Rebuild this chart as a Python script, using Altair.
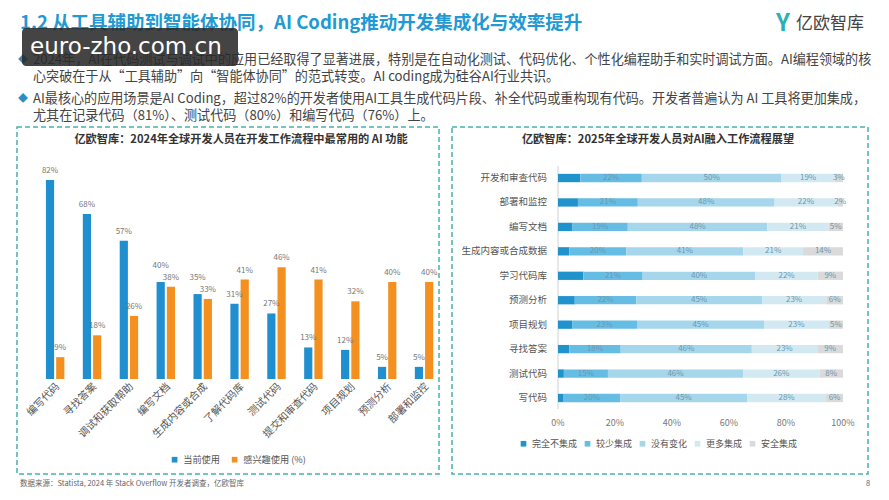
import altair as alt
import pandas as pd

FONT = "Noto Sans CJK SC"
BLUE = "#1f8fcf"
ORANGE = "#f39020"
TEAL = "#45b3aa"

# ---------------- data ----------------
left_tasks = ["编写代码", "寻找答案", "调试和获取帮助", "编写文档", "生成内容或合成",
              "了解代码库", "测试代码", "提交和审查代码", "项目规划", "预测分析", "部署和监控"]
left_series = ["当前使用", "感兴趣使用 (%)"]
current_use = [82, 68, 57, 40, 35, 31, 27, 13, 12, 5, 5]
interested_use = [9, 18, 26, 38, 33, 41, 46, 41, 32, 40, 40]

right_tasks = ["开发和审查代码", "部署和监控", "编写文档", "生成内容或合成数据", "学习代码库",
               "预测分析", "项目规划", "寻找答案", "测试代码", "写代码"]
right_levels = ["完全不集成", "较少集成", "没有变化", "更多集成", "安全集成"]
right_colors = ["#2093cc", "#66bde4", "#a6d6ec", "#d3e9f2", "#dadada"]
no_integration = [8, 7, 5, 4, 9, 6, 5, 4, 2, 2]
less_integration = [22, 21, 19, 20, 21, 22, 23, 18, 15, 20]
no_change = [50, 48, 48, 41, 40, 45, 45, 46, 46, 45]
more_integration = [19, 22, 21, 21, 22, 23, 23, 23, 26, 28]
secure_integration = [3, 2, 5, 14, 9, 6, 5, 9, 8, 6]
right_ticks = [0, 0.2, 0.4, 0.6, 0.8, 1.0]
right_tick_labels = ["0%", "20%", "40%", "60%", "80%", "100%"]

title_text = "1.2 从工具辅助到智能体协同，AI Coding推动开发集成化与效率提升"
bullet1 = ["2024年，AI在代码测试与调试中的应用已经取得了显著进展，特别是在自动化测试、代码优化、个性化编程助手和实时调试方面。AI编程领域的核",
           "心突破在于从“工具辅助”向“智能体协同”的范式转变。AI coding成为硅谷AI行业共识。"]
bullet2 = ["AI最核心的应用场景是AI Coding，超过82%的开发者使用AI工具生成代码片段、补全代码或重构现有代码。开发者普遍认为 AI 工具将更加集成，",
           "尤其在记录代码（81%）、测试代码（80%）和编写代码（76%）上。"]
left_title = "亿欧智库：2024年全球开发人员在开发工作流程中最常用的 AI 功能"
right_title = "亿欧智库：2025年全球开发人员对AI融入工作流程展望"
footer = "数据来源：Statista, 2024 年 Stack Overflow 开发者调查，亿欧智库"

# ---------------- helpers ----------------
def txt(s, x, y, size, color, weight="normal", align="left", baseline="middle", font=FONT):
    return alt.Chart(alt.Data(values=[{"t": s}])).mark_text(
        align=align, baseline=baseline, fontSize=size, color=color,
        fontWeight=weight, font=font
    ).encode(x=alt.value(x), y=alt.value(y), text="t:N")


def box(x1, x2, y1, y2, **kw):
    return alt.Chart(alt.Data(values=[{"a": 1}])).mark_rect(**kw).encode(
        x=alt.value(x1), x2=alt.value(x2), y=alt.value(y1), y2=alt.value(y2))

# ---------------- left chart ----------------
rows = []
for i, t in enumerate(left_tasks):
    rows.append({"task": t, "series": left_series[0], "value": current_use[i]})
    rows.append({"task": t, "series": left_series[1], "value": interested_use[i]})
df_left = pd.DataFrame(rows)

xL = alt.X("task:N", sort=left_tasks, axis=None,
           scale=alt.Scale(range=[36.7, 442.5], paddingInner=0.5, paddingOuter=0.25))
yscaleL = alt.Scale(domain=[0, 90], range=[379, 160.6])
yL = alt.Y("value:Q", axis=None, scale=yscaleL)
xoffL = alt.XOffset("series:N", sort=left_series, scale=alt.Scale(paddingInner=0.2))
colorL = alt.Color("series:N", sort=left_series,
                   scale=alt.Scale(domain=left_series, range=[BLUE, ORANGE]),
                   legend=alt.Legend(orient="none", legendX=170, legendY=455,
                                     direction="horizontal", title=None,
                                     symbolType="square", symbolSize=32,
                                     symbolStrokeWidth=0, labelFontSize=9.2,
                                     labelFont=FONT, labelColor="#555",
                                     columnPadding=10, labelOffset=4))

left_base = alt.Chart(df_left)
left_bars = left_base.mark_bar().encode(x=xL, xOffset=xoffL, y=yL, color=colorL)
# lift the blue label a little when the two bars of a group are nearly equal
left_vals = left_base.transform_joinaggregate(
    maxv="max(value)", minv="min(value)", groupby=["task"]
).transform_calculate(
    lab="datum.value + '%'",
    labv="datum.value + ((datum.series == '当前使用' && datum.value == datum.maxv && datum.maxv - datum.minv < 6) ? 3 : 0)"
).mark_text(
    dy=-9, fontSize=8, color="#777", font=FONT
).encode(x=xL, xOffset=xoffL, y=alt.Y("labv:Q", axis=None, scale=yscaleL), text="lab:N")
left_cats = alt.Chart(pd.DataFrame({"task": left_tasks})).mark_text(
    angle=315, align="right", baseline="middle", fontSize=10.3, color="#555",
    font=FONT, dx=4
).encode(x=xL, y=alt.value(388), text="task:N")
left_layer = alt.layer(left_bars, left_vals, left_cats)

# ---------------- right chart ----------------
series_vals = [no_integration, less_integration, no_change, more_integration, secure_integration]
rrows = []
for i, t in enumerate(right_tasks):
    for j, lv in enumerate(right_levels):
        rrows.append({"task": t, "level": lv, "lidx": j, "value": series_vals[j][i]})
df_right = pd.DataFrame(rrows)

xR_scale = alt.Scale(domain=[0, 1], range=[558, 843])
yR = alt.Y("task:N", sort=right_tasks, axis=None,
           scale=alt.Scale(range=[165.8, 410.2], paddingInner=0.66, paddingOuter=0.33))
colorR = alt.Color("level:N", sort=right_levels,
                   scale=alt.Scale(domain=right_levels, range=right_colors),
                   legend=alt.Legend(orient="none", legendX=519, legendY=439,
                                     direction="horizontal", title=None,
                                     symbolType="square", symbolSize=32,
                                     symbolStrokeWidth=0, labelFontSize=9,
                                     labelFont=FONT, labelColor="#555",
                                     columnPadding=5, labelOffset=4))

right_base = alt.Chart(df_right).transform_stack(
    stack="value", groupby=["task"], as_=["x0", "x1"], offset="normalize",
    sort=[alt.SortField("lidx", order="ascending")]
).transform_calculate(mid="(datum.x0 + datum.x1) / 2", lab="datum.value + '%'")

right_bars = right_base.mark_bar().encode(
    x=alt.X("x0:Q", scale=xR_scale, axis=None), x2="x1:Q", y=yR, color=colorR)
right_vals = right_base.transform_filter("datum.lidx > 0").mark_text(
    fontSize=8, color="#6a98b0", font=FONT
).encode(x=alt.X("mid:Q", scale=xR_scale, axis=None), y=yR, text="lab:N")
right_cats = alt.Chart(pd.DataFrame({"task": right_tasks})).mark_text(
    align="right", baseline="middle", fontSize=9.5, color="#555", font=FONT
).encode(x=alt.value(547), y=yR, text="task:N")
right_ticks_layer = alt.Chart(pd.DataFrame({"x0": right_ticks, "lab": right_tick_labels})).mark_text(
    fontSize=9, color="#777", font=FONT, baseline="middle"
).encode(x=alt.X("x0:Q", scale=xR_scale, axis=None), y=alt.value(423), text="lab:N")
right_axis = alt.Chart(alt.Data(values=[{"a": 1}])).mark_rule(color="#d0d0d0").encode(
    x=alt.value(558), y=alt.value(166), y2=alt.value(409))
right_layer = alt.layer(right_axis, right_bars, right_vals, right_cats, right_ticks_layer)

# ---------------- decorations ----------------
deco = [
    box(17, 439, 127, 474, filled=False, stroke=TEAL, strokeWidth=1.5, strokeDash=[5, 3]),
    box(452, 868, 127, 474, filled=False, stroke=TEAL, strokeWidth=1.5, strokeDash=[5, 3]),
    txt(title_text, 20, 23, 18.5, "#2199d2", weight="bold"),
    txt("◆", 18, 60, 10, "#2b8fc6"),
    txt(bullet1[0], 33, 60, 13.1, "#444"),
    txt(bullet1[1], 33, 77, 13.1, "#444"),
    txt("◆", 18, 99, 10, "#2b8fc6"),
    txt(bullet2[0], 33, 99, 13.1, "#444"),
    txt(bullet2[1], 33, 116, 13.1, "#444"),
    txt(left_title, 241, 140, 11.2, "#333", weight="bold", align="center"),
    txt(right_title, 658, 140, 11.2, "#333", weight="bold", align="center"),
    txt("Y", 776, 24, 24, "#2bb0b8", weight="bold"),
    txt("亿欧智库", 796, 24, 17, "#444"),
    txt(footer, 20, 484, 7.5, "#666"),
    txt("8", 866, 484, 7.5, "#666"),
    box(22, 238, 28, 66, color="#2a2a2a", opacity=0.88, cornerRadius=4),
    txt("euro-zho.com.cn", 30, 47, 23, "#ffffff", font="DejaVu Sans"),
]

chart = alt.layer(left_layer, right_layer, *deco).resolve_scale(
    x="independent", y="independent", color="independent", xOffset="independent"
).properties(
    width=889, height=500, padding=0, background="white",
    autosize=alt.AutoSizeParams(type="none")
).configure_view(stroke=None).configure_text(font=FONT)

chart.save("out.html", embed_options={"renderer": "svg", "actions": False})
